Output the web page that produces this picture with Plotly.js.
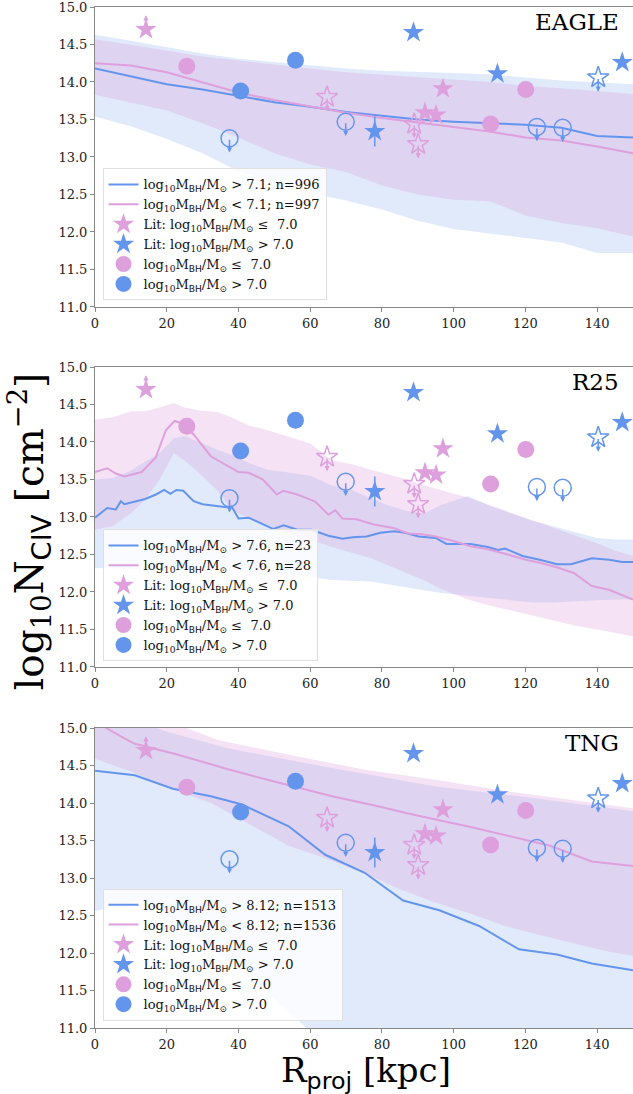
<!DOCTYPE html>
<html><head><meta charset="utf-8">
<script src="https://cdn.plot.ly/plotly-3.0.1.min.js"></script>
<style>html,body{margin:0;padding:0;background:#fff}#chart{width:633px;height:1094px}</style>
</head><body><div id="chart"></div>
<script>
// ---------------- observational data (same in every panel) ----------------
const litLowDetX = [92.0, 95.1, 97.0];          // Lit: log MBH <= 7.0, detections
const litLowDetY = [13.59, 13.56, 13.91];
const litLowLowerX = [14.2];                      // lower limit
const litLowLowerY = [14.70];
const litLowUpperX = [64.7, 89.0, 90.1];          // upper limits (open)
const litLowUpperY = [13.80, 13.44, 13.17];
const litHighDetX = [78.0, 88.8, 112.2, 147.0];   // Lit: log MBH > 7.0
const litHighDetY = [13.34, 14.66, 14.11, 14.26];
const litHighDetErr = [0.20, 0.0, 0.05, 0.0];
const litHighUpperX = [140.3];
const litHighUpperY = [14.06];
const ownLowX = [25.6, 110.3, 120.1];             // log MBH <= 7.0 (circles)
const ownLowY = [14.21, 13.44, 13.90];
const ownHighX = [40.6, 55.9];                    // log MBH > 7.0 detections
const ownHighY = [13.88, 14.29];
const ownHighUpperX = [37.5, 69.9, 123.2, 130.4]; // upper limits (open circles)
const ownHighUpperY = [13.25, 13.47, 13.40, 13.39];

// ---------------- EAGLE ----------------
const eagleX = [0,10,20,30,40,50,60,70,80,90,100,110,120,130,140,150];
const eagleBlue = [14.18,14.08,13.97,13.90,13.81,13.73,13.67,13.60,13.55,13.50,13.47,13.45,13.43,13.39,13.28,13.26];
const eaglePink = [14.25,14.22,14.13,14.00,13.86,13.76,13.67,13.59,13.52,13.46,13.41,13.34,13.26,13.22,13.14,13.05];
const eagleBlueHi = [14.63,14.55,14.47,14.38,14.31,14.26,14.22,14.18,14.15,14.13,14.12,14.10,14.06,14.02,13.99,13.97];
const eagleBlueLo = [13.54,13.41,13.24,13.05,12.81,12.67,12.52,12.42,12.30,12.15,12.04,11.98,11.92,11.86,11.72,11.72];
const eaglePinkHi = [14.57,14.50,14.42,14.34,14.29,14.23,14.18,14.13,14.10,14.06,14.03,14.00,13.95,13.91,13.88,13.84];
const eaglePinkLo = [13.83,13.72,13.62,13.45,13.26,13.05,12.90,12.80,12.62,12.50,12.43,12.41,12.22,12.12,12.05,11.94];

// ---------------- R25 ----------------
const r25BlueX = [0,3.4,5.8,7.2,8.2,10.6,14,17,19.3,21,22.7,24.6,27.5,30,33.3,36.7,38.1,40,42.9,46.8,49.7,52.6,56.4,60.3,65.1,69,71.9,75.7,79.6,83.5,86.4,90.2,95,98,100.9,104.7,109.5,112.4,114.3,119.2,124,128.8,132.7,138.5,143.3,147,150];
const r25Blue = [12.99,13.12,13.10,13.21,13.17,13.20,13.24,13.30,13.36,13.31,13.36,13.35,13.21,13.17,13.15,13.13,13.14,12.98,12.99,12.90,12.84,12.89,12.83,12.83,12.75,12.71,12.73,12.74,12.79,12.81,12.79,12.74,12.72,12.64,12.64,12.64,12.60,12.56,12.58,12.48,12.43,12.37,12.37,12.45,12.43,12.40,12.40];
const r25PinkX = [0,3.4,5.8,8.2,13,16.9,19.8,22.2,24.1,27.5,32.3,37.1,40,42.9,46.8,50.7,52.6,56.4,61.3,65.1,67,69,72.9,77.7,83.5,87.3,91.2,95,99.9,104.7,109.5,114.3,120.1,124,128.8,133.6,138.5,143.3,147,150];
const r25Pink = [13.60,13.65,13.58,13.54,13.60,13.79,14.16,14.28,14.25,14.10,13.81,13.68,13.60,13.59,13.50,13.30,13.35,13.30,13.21,13.03,13.09,12.98,12.97,12.90,12.85,12.78,12.77,12.74,12.68,12.61,12.57,12.51,12.43,12.39,12.33,12.25,12.08,12.03,11.96,11.90];
const r25BandX = [0,5,10,14,18,22,25,29,34,38,43,48,53,60,66,72,77,82,87,92,96,100,104,110,116,122,128,134,140,145,150];
const r25BlueHi = [13.50,13.52,13.62,13.74,13.85,14.05,14.08,14.00,13.90,13.83,13.72,13.63,13.60,13.55,13.42,13.35,13.25,13.15,13.08,13.05,13.15,13.22,13.28,13.15,13.05,12.95,12.88,12.80,12.72,12.70,12.70];
const r25BlueLo = [12.32,12.31,12.31,12.30,12.30,12.30,12.30,12.30,12.29,12.28,12.27,12.25,12.23,12.20,12.16,12.15,12.14,12.10,12.06,12.02,11.99,11.97,11.95,11.92,11.89,11.86,11.86,11.88,11.89,11.90,11.90];
const r25PinkHi = [14.30,14.33,14.41,14.41,14.46,14.52,14.46,14.42,14.40,14.33,14.22,14.16,14.08,13.98,13.76,13.70,13.63,13.56,13.50,13.42,13.36,13.31,13.26,13.16,13.06,12.96,12.85,12.75,12.65,12.55,12.48];
const r25PinkLo = [12.83,12.88,13.05,13.23,13.50,13.85,13.75,13.59,13.36,13.10,12.98,12.90,12.80,12.70,12.60,12.52,12.45,12.35,12.25,12.15,12.05,11.97,11.90,11.82,11.75,11.68,11.62,11.55,11.50,11.45,11.41];

// ---------------- TNG ----------------
const tngBlueX = [0,11.1,21.7,32.3,41,54,64.2,75.2,85.9,96,107.1,118.2,128.8,138.5,150];
const tngBlue = [14.43,14.37,14.19,14.09,13.98,13.69,13.31,13.07,12.70,12.57,12.36,12.05,11.98,11.86,11.77];
const tngPinkX = [0,3.1,8.7,11.1,22.7,37.1,49.7,66.1,78.6,87.3,104.7,120.1,126.9,138.5,150];
const tngPink = [15.12,15.00,14.85,14.79,14.65,14.45,14.29,14.09,13.96,13.86,13.68,13.50,13.43,13.22,13.16];
const tngPinkHiX = [0,20,34.3,56.5,75.7,95,114.3,130,150];
const tngPinkHi = [15.50,15.10,14.84,14.62,14.44,14.31,14.16,14.06,13.93];
const tngPinkLoX = [0,10,20.7,32.3,43,54,65,75.7,85,95,105,114.3,124,133.6,142,150];
const tngPinkLo = [14.59,14.42,14.20,14.00,13.72,13.43,13.25,13.05,12.85,12.67,12.52,12.36,12.24,12.13,12.03,11.96];
const tngBlueHiX = [0,20,37.1,60,95,120,150];
const tngBlueHi = [15.30,14.95,14.73,14.52,14.22,14.08,13.89];
const tngBlueLoX = [0,10,14,30,45,59,80,150];
const tngBlueLo = [12.56,12.68,12.72,12.15,11.60,11.00,10.20,9.00];

// ---------------- legend labels ----------------
const panelNames = ['EAGLE', 'R25', 'TNG'];
const blueCut = ['> 7.1; n=996', '> 7.6, n=23', '> 8.12; n=1513'];
const pinkCut = ['< 7.1; n=997', '< 7.6, n=28', '< 8.12; n=1536'];

// ---------------- styling ----------------
const BLUE = '#6495ED', PINK = '#DDA0DD';
const BLUE_FILL = 'rgba(100,149,237,0.2)', PINK_FILL = 'rgba(221,160,221,0.3)';
const SERIF = 'DejaVu Serif';
const ARROW = 0.19;
const SANS = s => '<span style="font-family:DejaVu Sans">' + s + '</span>';
const MBH = 'log<sub>10</sub>M<sub>' + SANS('BH') + '</sub>/M<sub>⊙</sub>';

const traces = [];
const annotations = [];

function band(xl, lo, xh, hi, color, ax, ay) {
  return {x: xl.concat(xh.slice().reverse()), y: lo.concat(hi.slice().reverse()),
    fill: 'toself', fillcolor: color, line: {width: 0}, mode: 'lines',
    hoverinfo: 'skip', showlegend: false, xaxis: ax, yaxis: ay};
}

const panels = [
  {bx: eagleX, b: eagleBlue, px: eagleX, p: eaglePink,
   bhx: eagleX, bh: eagleBlueHi, blx: eagleX, bl: eagleBlueLo,
   phx: eagleX, ph: eaglePinkHi, plx: eagleX, pl: eaglePinkLo},
  {bx: r25BlueX, b: r25Blue, px: r25PinkX, p: r25Pink,
   bhx: r25BandX, bh: r25BlueHi, blx: r25BandX, bl: r25BlueLo,
   phx: r25BandX, ph: r25PinkHi, plx: r25BandX, pl: r25PinkLo},
  {bx: tngBlueX, b: tngBlue, px: tngPinkX, p: tngPink,
   bhx: tngBlueHiX, bh: tngBlueHi, blx: tngBlueLoX, bl: tngBlueLo,
   phx: tngPinkHiX, ph: tngPinkHi, plx: tngPinkLoX, pl: tngPinkLo}
];

panels.forEach((P, i) => {
  const ax = i === 0 ? 'x' : 'x' + (i + 1);
  const ay = i === 0 ? 'y' : 'y' + (i + 1);
  const leg = i === 0 ? 'legend' : 'legend' + (i + 1);
  traces.push(band(P.blx, P.bl, P.bhx, P.bh, BLUE_FILL, ax, ay));
  traces.push(band(P.plx, P.pl, P.phx, P.ph, PINK_FILL, ax, ay));
  traces.push({x: P.bx, y: P.b, mode: 'lines', line: {color: BLUE, width: 2},
    name: MBH + ' ' + blueCut[i], xaxis: ax, yaxis: ay, legend: leg, legendrank: 1});
  traces.push({x: P.px, y: P.p, mode: 'lines', line: {color: PINK, width: 2},
    name: MBH + ' ' + pinkCut[i], xaxis: ax, yaxis: ay, legend: leg, legendrank: 2});
  // literature stars
  traces.push({x: litLowDetX.concat(litLowLowerX), y: litLowDetY.concat(litLowLowerY), mode: 'markers',
    marker: {symbol: 'star', size: 16, color: PINK, line: {width: 0}},
    name: 'Lit: ' + MBH + ' ≤  7.0', xaxis: ax, yaxis: ay, legend: leg, legendrank: 3});
  traces.push({x: litHighDetX, y: litHighDetY, mode: 'markers',
    error_y: {type: 'data', array: litHighDetErr, color: BLUE, thickness: 1.5, width: 0},
    marker: {symbol: 'star', size: 16, color: BLUE, line: {width: 0}},
    name: 'Lit: ' + MBH + ' > 7.0', xaxis: ax, yaxis: ay, legend: leg, legendrank: 4});
  traces.push({x: litLowUpperX, y: litLowUpperY, mode: 'markers',
    marker: {symbol: 'star-open', size: 16, color: PINK, line: {width: 1.5, color: PINK}},
    showlegend: false, xaxis: ax, yaxis: ay});
  traces.push({x: litHighUpperX, y: litHighUpperY, mode: 'markers',
    marker: {symbol: 'star-open', size: 16, color: BLUE, line: {width: 1.5, color: BLUE}},
    showlegend: false, xaxis: ax, yaxis: ay});
  // own circles
  traces.push({x: ownLowX, y: ownLowY, mode: 'markers',
    marker: {symbol: 'circle', size: 17, color: PINK, line: {width: 0}},
    name: MBH + ' ≤  7.0', xaxis: ax, yaxis: ay, legend: leg, legendrank: 5});
  traces.push({x: ownHighX, y: ownHighY, mode: 'markers',
    marker: {symbol: 'circle', size: 17, color: BLUE, line: {width: 0}},
    name: MBH + ' > 7.0', xaxis: ax, yaxis: ay, legend: leg, legendrank: 6});
  traces.push({x: ownHighUpperX, y: ownHighUpperY, mode: 'markers',
    marker: {symbol: 'circle-open', size: 17, color: BLUE, line: {width: 1.5, color: BLUE}},
    showlegend: false, xaxis: ax, yaxis: ay});

  // limit arrows
  const arrow = (x, y, dir, color) => annotations.push({
    x: x, y: y + dir * ARROW, ax: x, ay: y, xref: ax, yref: ay, axref: ax, ayref: ay,
    text: '', showarrow: true, arrowhead: 2, arrowsize: 0.7, arrowwidth: 1.5, arrowcolor: color,
    standoff: 0, startstandoff: 0});
  litLowUpperX.forEach((x, k) => arrow(x, litLowUpperY[k], -1, PINK));
  litLowLowerX.forEach((x, k) => arrow(x, litLowLowerY[k], 1, PINK));
  litHighUpperX.forEach((x, k) => arrow(x, litHighUpperY[k], -1, BLUE));
  ownHighUpperX.forEach((x, k) => arrow(x, ownHighUpperY[k], -1, BLUE));

  annotations.push({text: panelNames[i], xref: ax + ' domain', yref: ay + ' domain',
    x: 0.977, y: 0.95, xanchor: 'right', yanchor: 'middle', showarrow: false,
    font: {family: SERIF, size: 23, color: '#000'}});
});

annotations.push({text: 'log<sub>10</sub>N<sub>' + SANS('CIV') + '</sub> [cm<sup>−2</sup>]',
  xref: 'paper', yref: 'paper', x: -0.122, y: 0.486, textangle: -90, showarrow: false,
  xanchor: 'center', yanchor: 'middle', font: {family: SERIF, size: 39, color: '#000'}});
annotations.push({text: 'R<sub>' + SANS('proj') + '</sub> [kpc]',
  xref: 'paper', yref: 'paper', x: 0.503, y: -0.0435, showarrow: false, borderpad: 0,
  xanchor: 'center', yanchor: 'middle', font: {family: SERIF, size: 34, color: '#000'}});

const domains = [[0.7062, 1.0], [0.3536, 0.6474], [0.0, 0.2938]];
const legendBottoms = [0.7126, 0.359, 0.0071];

const axisCommon = {
  showgrid: false, zeroline: false, showline: true, linecolor: '#888', linewidth: 1, mirror: true,
  ticks: 'outside', ticklen: 4, tickcolor: '#888', tickwidth: 1, ticklabeloverflow: 'allow',
  tickfont: {family: SERIF, size: 13, color: '#222'}
};

const layout = {
  width: 633, height: 1094,
  margin: {l: 95, r: 0, t: 7, b: 66},
  paper_bgcolor: '#fff', plot_bgcolor: '#fff',
  font: {family: SERIF},
  annotations: annotations,
  showlegend: true
};
for (let i = 0; i < 3; i++) {
  const sx = i === 0 ? '' : String(i + 1);
  layout['xaxis' + sx] = Object.assign({}, axisCommon, {
    range: [0, 150], domain: [0, 1], anchor: 'y' + sx,
    tickvals: [0, 20, 40, 60, 80, 100, 120, 140]});
  layout['yaxis' + sx] = Object.assign({}, axisCommon, {
    range: [11, 15], domain: domains[i], anchor: 'x' + sx,
    tickvals: [11, 11.5, 12, 12.5, 13, 13.5, 14, 14.5, 15], tickformat: '.1f'});
  layout[i === 0 ? 'legend' : 'legend' + (i + 1)] = {
    x: 0.014, xanchor: 'left', y: legendBottoms[i], yanchor: 'bottom',
    bgcolor: 'rgba(255,255,255,0.8)', bordercolor: '#e0e0e0', borderwidth: 1,
    font: {family: SERIF, size: 13, color: '#111'}, tracegroupgap: 0, itemwidth: 30,
    traceorder: 'normal'};
}

Plotly.newPlot('chart', traces, layout, {displayModeBar: false, staticPlot: true});
</script>
</body></html>
